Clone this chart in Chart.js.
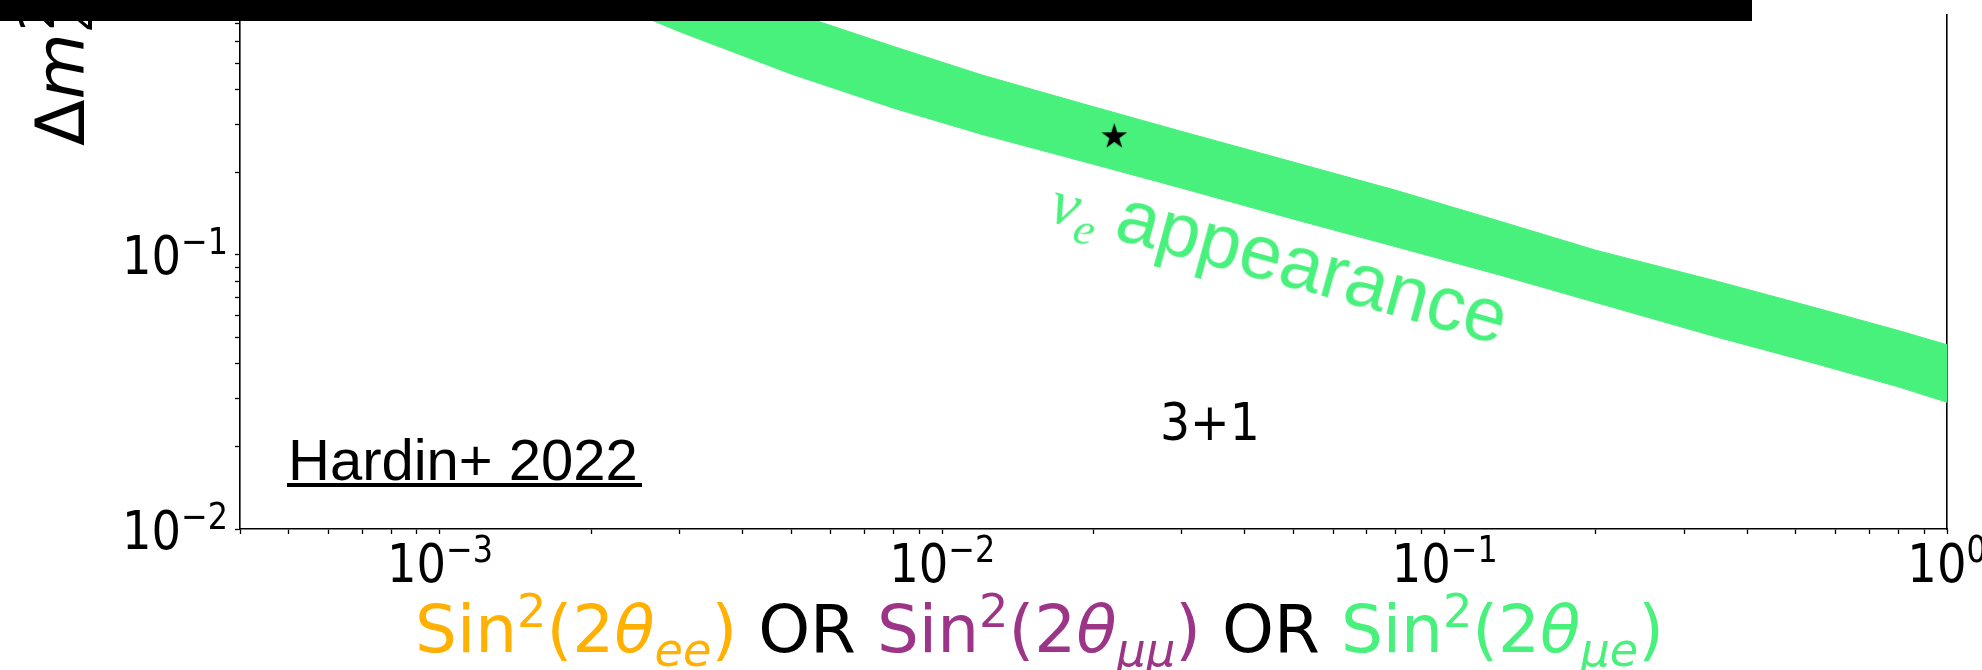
<!DOCTYPE html>
<html>
<head>
<meta charset="utf-8">
<script src="https://cdn.jsdelivr.net/npm/chart.js@4.4.0/dist/chart.umd.min.js"></script>
<style>
  html, body { margin: 0; padding: 0; background: #fff; overflow: hidden; }
  #wrap { position: relative; width: 1982px; height: 670px; }
  #plot { position: absolute; left: 0; top: 0; }
  .txt { position: absolute; white-space: nowrap; line-height: 1; }
  .sans { font-family: "DejaVu Sans", sans-serif; }
  .helv { font-family: "Liberation Sans", Arial, sans-serif; }
  .serifit { font-family: "Liberation Serif", "DejaVu Serif", serif; font-style: italic; }
  .obl { font-style: oblique; }
  sup, sub { font-size: 0.7em; line-height: 0; position: relative; vertical-align: baseline; }
  sup { top: -0.55em; }
  sub { top: 0.3em; }
  #bar { position: absolute; left: 0; top: 0; width: 1752px; height: 21px; background: #000; }
  /* stacked superscript / subscript pair */
  .ss { position: relative; display: inline-block; height: 0; width: 0.95em; }
  .ss > span { position: absolute; left: 0.05em; font-size: 0.7em; line-height: 1; }
  .ss .hi { bottom: 0.48em; }
  .ss .lo { bottom: -0.5em; }
</style>
</head>
<body>
<div id="wrap">
  <canvas id="plot" width="1982" height="670"></canvas>

  <!-- y-axis title (rotated, reads bottom to top) -->
  <div class="txt sans" id="ytitle" style="font-size:68px; left:27px; top:146px; transform-origin:0 0; transform:rotate(-90deg);">Δ<span class="obl">m</span><span class="ss"><span class="hi">2</span><span class="lo obl">41</span></span> (eV<sup>2</sup>)</div>

  <!-- x-axis title -->
  <div class="txt sans" id="xtitle" style="font-size:66px; left:415px; top:597px;"><span style="color:#FFB000">Sin<sup>2</sup>(2<span class="obl">θ</span><sub class="obl">ee</sub>)</span> OR <span style="color:#9C3587">Sin<sup>2</sup>(2<span class="obl">θ</span><sub class="obl">μμ</sub>)</span> OR <span style="color:#48F07C">Sin<sup>2</sup>(2<span class="obl">θ</span><sub class="obl">μe</sub>)</span></div>

  <!-- in-plot annotations -->
  <div class="txt" id="appear" style="color:#48F07C; font-size:76px; left:1047px; top:156px; transform-origin:0 64px; transform:rotate(15.4deg);"><span class="serifit" style="font-size:64px">ν</span><sub class="serifit" style="font-size:46px">e</sub> <span class="helv">appearance</span></div>
  <div class="txt sans" id="model" style="font-size:52px; left:1160px; top:396px; transform-origin:0 0; transform:scaleX(0.91);">3+1</div>
  <div class="txt helv" id="ref" style="font-size:58px; left:288px; top:431px;">Hardin+ 2022</div>
  <div style="position:absolute; left:287px; top:483px; width:355px; height:4px; background:#000;"></div>

  <div id="bar"></div>
</div>

<script>
// Allowed region of the nu_e appearance band: upper and lower edges in Δm² (eV²)
const sinSq    = [0.0015, 0.003, 0.005, 0.008, 0.012, 0.02, 0.03, 0.05, 0.08, 0.13, 0.2, 0.35, 0.55, 0.8, 1.0];
const dm2Upper = [1.63, 1.04, 0.767, 0.576, 0.453, 0.347, 0.282, 0.218, 0.172, 0.132, 0.104, 0.080, 0.064, 0.053, 0.047];
const dm2Lower = [1.10, 0.652, 0.457, 0.343, 0.275, 0.214, 0.175, 0.135, 0.107, 0.084, 0.067, 0.050, 0.040, 0.033, 0.029];

// Best-fit point
const bestSinSq = [0.022];
const bestDm2   = [0.27];

// Axis ranges and labelled decades
const xRange = [4e-4, 1];
const yRange = [1e-2, 0.75];
const xMajor = [1e-3, 1e-2, 1e-1, 1];
const xMajorExp = ['−3', '−2', '−1', '0'];
const yMajor = [1e-2, 1e-1];
const yMajorExp = ['−2', '−1'];

const GREEN = '#48F07C';

function minorTicks(lo, hi) {
  const out = [];
  for (let d = Math.floor(Math.log10(lo)); d <= Math.ceil(Math.log10(hi)); d++) {
    for (let m = 2; m <= 9; m++) {
      const v = m * Math.pow(10, d);
      if (v >= lo * 0.999 && v <= hi * 1.001) out.push(v);
    }
  }
  return out;
}

function tickList(major, range) {
  const t = major.map(v => ({ value: v, major: true }));
  minorTicks(range[0], range[1]).forEach(v => t.push({ value: v, major: false }));
  return t.sort((a, b) => a.value - b.value);
}

function starMarker(r) {
  const s = Math.ceil(2 * r + 2);
  const c = document.createElement('canvas');
  c.width = s; c.height = s;
  const g = c.getContext('2d');
  g.fillStyle = '#000';
  g.beginPath();
  for (let i = 0; i < 10; i++) {
    const rad = i % 2 ? r * 0.382 : r;
    const a = -Math.PI / 2 + i * Math.PI / 5;
    const px = s / 2 + rad * Math.cos(a), py = s / 2 + rad * Math.sin(a);
    if (i === 0) g.moveTo(px, py); else g.lineTo(px, py);
  }
  g.closePath();
  g.fill();
  return c;
}

// Power-of-ten tick labels: "10" with a raised exponent
const TICK_FONT = '"DejaVu Sans", sans-serif';
const TICK_PX = 54, EXP_PX = 37, EXP_RAISE = 20, SQUEEZE = 0.86;

function drawPower(ctx, exp, x, baseline, align) {
  ctx.font = TICK_PX + 'px ' + TICK_FONT;
  const wb = ctx.measureText('10').width;
  ctx.font = EXP_PX + 'px ' + TICK_FONT;
  const we = ctx.measureText(exp).width;
  const total = (wb + we) * SQUEEZE;
  const left = align === 'center' ? x - total / 2 : x - total;
  ctx.save();
  ctx.translate(left, baseline);
  ctx.scale(SQUEEZE, 1);
  ctx.textBaseline = 'alphabetic';
  ctx.textAlign = 'left';
  ctx.fillStyle = '#000';
  ctx.font = TICK_PX + 'px ' + TICK_FONT;
  ctx.fillText('10', 0, 0);
  ctx.font = EXP_PX + 'px ' + TICK_FONT;
  ctx.fillText(exp, wb, -EXP_RAISE);
  ctx.restore();
}

const powerLabels = {
  id: 'powerLabels',
  afterDraw(chart) {
    const ctx = chart.ctx;
    const xs = chart.scales.x, ys = chart.scales.y;
    xMajor.forEach((v, i) => {
      drawPower(ctx, xMajorExp[i], xs.getPixelForValue(v), xs.top + 53, 'center');
    });
    yMajor.forEach((v, i) => {
      drawPower(ctx, yMajorExp[i], ys.right - 12, ys.getPixelForValue(v) + 19.5, 'right');
    });
  }
};

const axisStyle = {
  ticks: { display: false },
  grid: { display: true, drawOnChartArea: false, drawTicks: true, tickLength: 5, tickColor: '#000', tickWidth: 1.3 },
  border: { display: true, color: '#000', width: 1.6 }
};

new Chart(document.getElementById('plot'), {
  type: 'line',
  data: {
    datasets: [
      {
        label: 'best fit',
        type: 'scatter',
        order: -1,
        data: bestSinSq.map((x, i) => ({ x, y: bestDm2[i] })),
        pointStyle: starMarker(13.5),
        pointRadius: 14,
        backgroundColor: '#000', borderColor: '#000'
      },
      {
        label: 'lower edge',
        order: 1,
        data: sinSq.map((x, i) => ({ x, y: dm2Lower[i] })),
        borderColor: GREEN, borderWidth: 1, pointRadius: 0, fill: false, tension: 0
      },
      {
        label: 'ν_e appearance',
        order: 2,
        data: sinSq.map((x, i) => ({ x, y: dm2Upper[i] })),
        borderColor: GREEN, borderWidth: 1, pointRadius: 0, fill: '-1',
        backgroundColor: GREEN, tension: 0
      }
    ]
  },
  options: {
    responsive: false,
    animation: false,
    devicePixelRatio: 1,
    layout: { padding: 0 },
    plugins: { legend: { display: false }, tooltip: { enabled: false }, title: { display: false } },
    scales: {
      x: Object.assign({
        type: 'logarithmic', position: 'bottom', min: xRange[0], max: xRange[1],
        afterBuildTicks: s => { s.ticks = tickList(xMajor, xRange); },
        afterFit: s => { s.height = 141; }
      }, axisStyle),
      y: Object.assign({
        type: 'logarithmic', position: 'left', min: yRange[0], max: yRange[1],
        afterBuildTicks: s => { s.ticks = tickList(yMajor, yRange); },
        afterFit: s => { s.width = 240; }
      }, axisStyle),
      y2: {
        type: 'logarithmic', position: 'right', min: yRange[0], max: yRange[1],
        afterBuildTicks: s => { s.ticks = []; },
        afterFit: s => { s.width = 35; },
        ticks: { display: false },
        grid: { display: true, drawOnChartArea: false, drawTicks: false },
        border: { display: true, color: '#000', width: 1.6 }
      }
    }
  },
  plugins: [powerLabels]
});
</script>
</body>
</html>
